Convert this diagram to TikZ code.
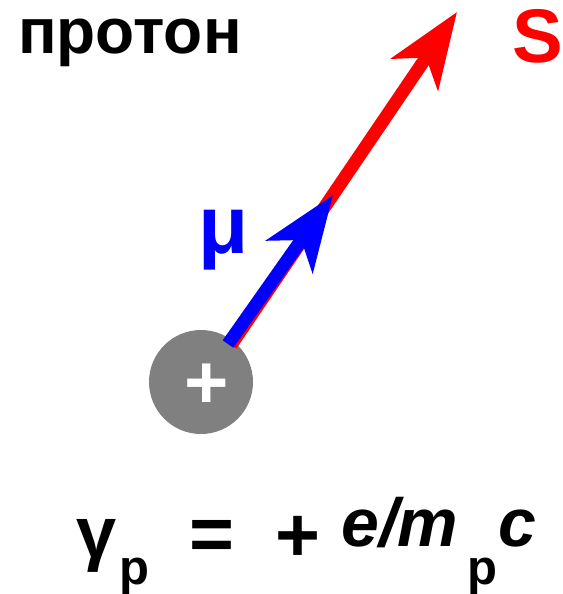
\documentclass[tikz,border=0pt]{standalone}
\usepackage{fontspec}
\setmainfont{Liberation Sans}
\usetikzlibrary{arrows.meta}
\begin{document}
\begin{tikzpicture}[x=1pt, y=-1pt,
    vec/.style={line width=13pt, -{Stealth[length=75pt, width=56pt, inset=20pt]}},
    lbl/.style={inner sep=0pt, anchor=base west, font=\bfseries\fontsize{64}{64}\selectfont},
    big/.style={lbl, font=\bfseries\fontsize{77}{77}\selectfont},
    ital/.style={lbl, font=\bfseries\itshape\fontsize{68}{68}\selectfont},
    sub/.style={inner sep=0pt, anchor=base west, font=\bfseries\fontsize{49}{49}\selectfont}]
    \useasboundingbox (0,0) rectangle (562,594);

    % proton with spin and magnetic moment
    \node[circle, fill=black!50, minimum size=104pt, inner sep=0pt] (proton) at (201,382) {};
    \node[anchor=base, inner sep=0pt, text=white, font=\bfseries\fontsize{76}{76}\selectfont] (charge) at (207,408) {+};

    \coordinate (stail) at (231,345);
    \coordinate (mtail) at (228,344);
    \coordinate (stip) at (457,12);
    \coordinate (mtip) at (333,195);
    \draw[vec, red] (stail) -- (stip);
    \draw[vec, blue] (mtail) -- (mtip);

    \node[lbl] (name) at (18,53) {протон};
    \node[lbl, red, font=\bfseries\fontsize{76}{76}\selectfont] (spin) at (512,63) {S};
    \node[lbl, blue, font=\bfseries\fontsize{82}{82}\selectfont] (moment) at (198,253) {μ};

    % gyromagnetic ratio
    \node[lbl, font=\bfseries\fontsize{72}{72}\selectfont] (gamma) at (76,557) {γ};
    \node[sub] (gsub) at (119,584) {p};
    \node[big] (eq) at (189,560) {=};
    \node[big] (plus) at (275,561) {+};
    \node[ital] (em) at (341,546) {e/m};
    \node[sub] (msub) at (467,584) {p};
    \node[ital] (light) at (498,546) {c};
\end{tikzpicture}
\end{document}
